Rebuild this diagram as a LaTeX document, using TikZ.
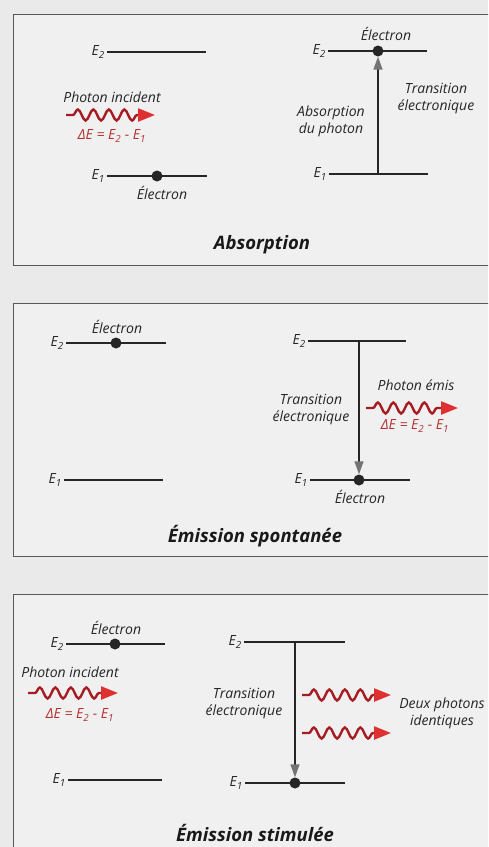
\documentclass[tikz,border=0pt]{standalone}
\usepackage{fontspec}
\setmainfont{Open Sans}
\usetikzlibrary{arrows.meta,decorations.pathmorphing}
\definecolor{paper}{RGB}{234,234,234}
\definecolor{panelbg}{RGB}{240,240,240}
\definecolor{wave}{RGB}{165,28,35}
\definecolor{wavehead}{RGB}{222,48,48}
\definecolor{deltared}{RGB}{180,48,48}
\tikzset{
  level/.style={line width=2.4pt, black!85},
  electron/.style={circle, fill=black!85, inner sep=0pt, minimum size=11pt},
  lbl/.style={font=\itshape\fontsize{14}{17}\selectfont, text=black!85, inner sep=1pt, align=center},
  elbl/.style={lbl, anchor=east, inner sep=2pt},
  title/.style={font=\bfseries\itshape\fontsize{18.5}{22}\selectfont, text=black!90},
  delta/.style={lbl, text=deltared},
  trans/.style={line width=1.5pt, black!85, -{Triangle[length=13pt,width=9pt,color=black!55]}},
  photon/.style={wave, line width=2.4pt, decorate,
     decoration={snake, segment length=15.5pt, amplitude=5.5pt, pre length=7pt, post length=16pt},
     -{Triangle[length=17pt,width=13pt,color=wavehead]}},
  panelbox/.style={draw=black!65, line width=1pt, fill=panelbg}
}
\begin{document}
\begin{tikzpicture}[x=1pt,y=-1pt]
\clip (0,0) rectangle (488,847);
\fill[paper] (0,0) rectangle (488,847);

% ---------------- Panel 1 : Absorption ----------------
\draw[panelbox] (13,14) rectangle (510,265);
% left
\coordinate (a1L2) at (107,52); \coordinate (a1R2) at (206,52);
\coordinate (a1L1) at (107,176); \coordinate (a1R1) at (207,176);
\draw[level] (a1L2) -- (a1R2);
\draw[level] (a1L1) -- (a1R1);
\node[elbl] (a1e2) at (a1L2) {E\textsubscript{2}};
\node[elbl] (a1e1) at (a1L1) {E\textsubscript{1}};
\node[electron] (a1dot) at (157,176) {};
\node[lbl] (a1el) at (162,193) {Électron};
\node[lbl] (a1pi) at (112,97) {Photon incident};
\coordinate (a1ps) at (66,115); \coordinate (a1pe) at (155,115);
\draw[photon] (a1ps) -- (a1pe);
\node[delta] (a1de) at (112,136) {ΔE = E\textsubscript{2} - E\textsubscript{1}};
% right
\coordinate (a2L2) at (328,51); \coordinate (a2R2) at (427,51);
\coordinate (a2L1) at (329,174); \coordinate (a2R1) at (428,174);
\draw[level] (a2L2) -- (a2R2);
\draw[level] (a2L1) -- (a2R1);
\node[elbl] (a2e2) at (a2L2) {E\textsubscript{2}};
\node[elbl] (a2e1) at (a2L1) {E\textsubscript{1}};
\node[electron] (a2dot) at (378,51) {};
\node[lbl] (a2el) at (386,34) {Électron};
\coordinate (a2start) at (378,174);
\draw[trans] (a2start) -- (a2dot);
\node[lbl] (a2abs) at (331,121) {Absorption\\du photon};
\node[lbl] (a2tr) at (436,99) {Transition\\électronique};
\node[title] (t1) at (262,245) {Absorption};

% ---------------- Panel 2 : Emission spontanee ----------------
\draw[panelbox] (13,303) rectangle (510,556);
\coordinate (b1L2) at (66,343); \coordinate (b1R2) at (166,343);
\coordinate (b1L1) at (64,480); \coordinate (b1R1) at (163,480);
\draw[level] (b1L2) -- (b1R2);
\draw[level] (b1L1) -- (b1R1);
\node[elbl] (b1e2) at (b1L2) {E\textsubscript{2}};
\node[elbl] (b1e1) at (b1L1) {E\textsubscript{1}};
\node[electron] (b1dot) at (116,343) {};
\node[lbl] (b1el) at (117,327) {Électron};
% right
\coordinate (b2L2) at (308,341); \coordinate (b2R2) at (406,341);
\coordinate (b2L1) at (310,480); \coordinate (b2R1) at (410,480);
\draw[level] (b2L2) -- (b2R2);
\draw[level] (b2L1) -- (b2R1);
\node[elbl] (b2e2) at (b2L2) {E\textsubscript{2}};
\node[elbl] (b2e1) at (b2L1) {E\textsubscript{1}};
\node[electron] (b2dot) at (359,480) {};
\coordinate (b2start) at (359,341);
\draw[trans] (b2start) -- (b2dot);
\node[lbl] (b2el) at (360,497) {Électron};
\node[lbl] (b2tr) at (311,410) {Transition\\électronique};
\node[lbl] (b2pe) at (416,385) {Photon émis};
\coordinate (b2ps) at (366,408); \coordinate (b2pe2) at (458,408);
\draw[photon] (b2ps) -- (b2pe2);
\node[delta] (b2de) at (415,426) {ΔE = E\textsubscript{2} - E\textsubscript{1}};
\node[title] (t2) at (255,536) {Émission spontanée};

% ---------------- Panel 3 : Emission stimulee ----------------
\draw[panelbox] (13,594) rectangle (510,900);
\coordinate (c1L2) at (66,644); \coordinate (c1R2) at (165,644);
\coordinate (c1L1) at (68,780); \coordinate (c1R1) at (162,780);
\draw[level] (c1L2) -- (c1R2);
\draw[level] (c1L1) -- (c1R1);
\node[elbl] (c1e2) at (c1L2) {E\textsubscript{2}};
\node[elbl] (c1e1) at (c1L1) {E\textsubscript{1}};
\node[electron] (c1dot) at (115,644) {};
\node[lbl] (c1el) at (116,628) {Électron};
\node[lbl] (c1pi) at (70,672) {Photon incident};
\coordinate (c1ps) at (28,693); \coordinate (c1pe) at (118,693);
\draw[photon] (c1ps) -- (c1pe);
\node[delta] (c1de) at (80,715) {ΔE = E\textsubscript{2} - E\textsubscript{1}};
% right
\coordinate (c2L2) at (244,642); \coordinate (c2R2) at (345,642);
\coordinate (c2L1) at (245,783); \coordinate (c2R1) at (345,783);
\draw[level] (c2L2) -- (c2R2);
\draw[level] (c2L1) -- (c2R1);
\node[elbl] (c2e2) at (c2L2) {E\textsubscript{2}};
\node[elbl] (c2e1) at (c2L1) {E\textsubscript{1}};
\node[electron] (c2dot) at (295,783) {};
\coordinate (c2start) at (295,642);
\draw[trans] (c2start) -- (c2dot);
\node[lbl] (c2tr) at (244,704) {Transition\\électronique};
\coordinate (c2ps1) at (302,695); \coordinate (c2pe1) at (391,695);
\coordinate (c2ps2) at (302,733); \coordinate (c2pe2) at (391,733);
\draw[photon] (c2ps1) -- (c2pe1);
\draw[photon] (c2ps2) -- (c2pe2);
\node[lbl] (c2dp) at (442,713) {Deux photons\\identiques};
\node[title] (t3) at (255,833) {Émission stimulée};
\end{tikzpicture}
\end{document}
